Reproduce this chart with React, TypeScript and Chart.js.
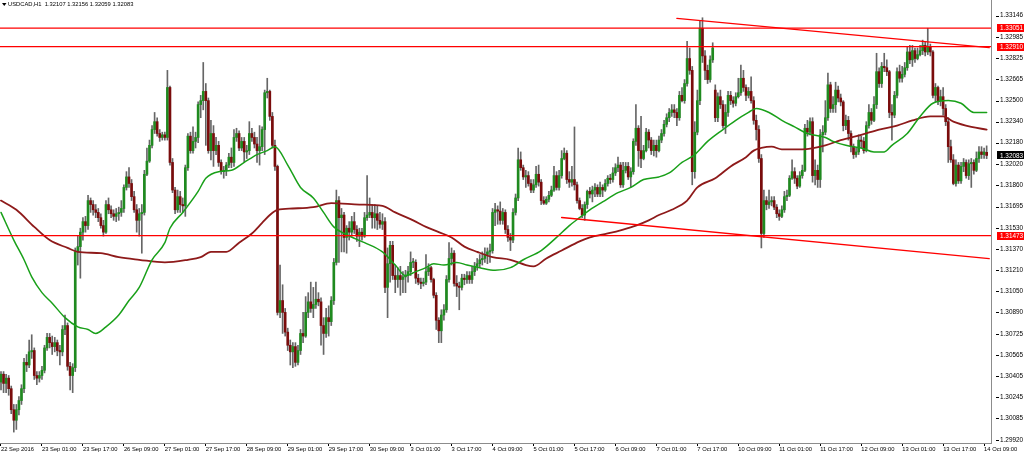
import React, { useEffect, useRef } from "react";
import { Chart, registerables } from "chart.js";

Chart.register(...registerables);

// ---- header ----
const symbolTitle = "USDCAD,H1";
const lastOHLC = [1.32107, 1.32156, 1.32059, 1.32083];

// ---- candles (H1 bars, 22 Sep 2016 09:00 ... 14 Oct 2016 10:00) ----
const opens = [
  1.3036,1.3042,1.3035,1.3039,1.3031,1.3015,1.3007,1.3015,1.3022,1.3031,1.3051,1.3049,1.3059,1.3060,1.3041,1.3039,
  1.3041,1.3045,1.3062,1.3070,1.3066,1.3063,1.3066,1.3060,1.3059,1.3076,1.3079,1.3048,1.3041,1.3047,1.3135,1.3139,
  1.3150,1.3158,1.3155,1.3174,1.3171,1.3167,1.3165,1.3161,1.3155,1.3150,1.3171,1.3167,1.3164,1.3162,1.3164,1.3165,
  1.3168,1.3184,1.3192,1.3187,1.3177,1.3167,1.3159,1.3164,1.3165,1.3194,1.3204,1.3216,1.3228,1.3234,1.3225,1.3222,
  1.3224,1.3222,1.3260,1.3203,1.3182,1.3167,1.3177,1.3171,1.3170,1.3199,1.3223,1.3212,1.3219,1.3222,1.3247,1.3250,
  1.3257,1.3250,1.3212,1.3225,1.3212,1.3216,1.3203,1.3196,1.3197,1.3201,1.3207,1.3203,1.3222,1.3225,1.3214,1.3219,
  1.3211,1.3212,1.3225,1.3222,1.3217,1.3212,1.3215,1.3228,1.3256,1.3257,1.3238,1.3216,1.3200,1.3089,1.3098,1.3089,
  1.3074,1.3064,1.3059,1.3063,1.3051,1.3060,1.3073,1.3071,1.3089,1.3097,1.3092,1.3095,1.3099,1.3097,1.3079,1.3073,
  1.3085,1.3082,1.3098,1.3127,1.3174,1.3161,1.3163,1.3146,1.3153,1.3150,1.3158,1.3152,1.3147,1.3150,1.3147,1.3161,
  1.3163,1.3165,1.3161,1.3164,1.3159,1.3156,1.3158,1.3108,1.3126,1.3140,1.3117,1.3114,1.3117,1.3114,1.3116,1.3117,
  1.3120,1.3127,1.3127,1.3115,1.3112,1.3111,1.3112,1.3120,1.3123,1.3114,1.3102,1.3083,1.3075,1.3087,1.3091,1.3114,
  1.3130,1.3134,1.3111,1.3109,1.3108,1.3115,1.3114,1.3117,1.3114,1.3120,1.3124,1.3126,1.3129,1.3130,1.3133,1.3135,
  1.3136,1.3165,1.3167,1.3166,1.3159,1.3165,1.3152,1.3146,1.3144,1.3165,1.3176,1.3205,1.3199,1.3192,1.3193,1.3187,
  1.3182,1.3186,1.3194,1.3188,1.3174,1.3172,1.3175,1.3178,1.3182,1.3193,1.3184,1.3193,1.3206,1.3210,1.3190,1.3188,
  1.3190,1.3186,1.3174,1.3168,1.3163,1.3171,1.3181,1.3179,1.3182,1.3184,1.3179,1.3184,1.3182,1.3187,1.3191,1.3190,
  1.3195,1.3199,1.3201,1.3186,1.3197,1.3200,1.3192,1.3196,1.3219,1.3229,1.3212,1.3206,1.3212,1.3226,1.3220,1.3212,
  1.3216,1.3212,1.3220,1.3225,1.3232,1.3237,1.3241,1.3243,1.3241,1.3237,1.3254,1.3250,1.3263,1.3282,1.3273,1.3196,
  1.3226,1.3250,1.3305,1.3284,1.3273,1.3266,1.3281,1.3258,1.3237,1.3253,1.3247,1.3231,1.3241,1.3254,1.3250,1.3248,
  1.3253,1.3256,1.3267,1.3260,1.3254,1.3257,1.3250,1.3235,1.3228,1.3206,1.3149,1.3174,1.3171,1.3173,1.3174,1.3169,
  1.3164,1.3162,1.3167,1.3177,1.3178,1.3191,1.3196,1.3191,1.3185,1.3193,1.3197,1.3229,1.3226,1.3234,1.3193,1.3197,
  1.3190,1.3224,1.3226,1.3237,1.3262,1.3244,1.3247,1.3258,1.3252,1.3249,1.3231,1.3235,1.3225,1.3215,1.3209,1.3211,
  1.3220,1.3219,1.3212,1.3231,1.3241,1.3235,1.3247,1.3272,1.3263,1.3276,1.3275,1.3272,1.3241,1.3239,1.3254,1.3272,
  1.3267,1.3270,1.3275,1.3287,1.3281,1.3288,1.3282,1.3285,1.3288,1.3292,1.3287,1.3291,1.3287,1.3254,1.3260,1.3250,
  1.3253,1.3244,1.3234,1.3215,1.3205,1.3187,1.3201,1.3189,1.3200,1.3203,1.3193,1.3202,1.3203,1.3197,1.3206,1.3211,
  1.3209,1.32107,
];
const highs = [
  1.3044,1.3044,1.3042,1.3041,1.3033,1.3019,1.3019,1.3025,1.3034,1.3054,1.3057,1.3068,1.3072,1.3062,1.3044,1.3044,
  1.3048,1.3064,1.3073,1.3073,1.3071,1.3070,1.3068,1.3064,1.3079,1.3087,1.3081,1.3051,1.3050,1.3138,1.3147,1.3153,
  1.3161,1.3162,1.3178,1.3176,1.3174,1.3171,1.3168,1.3164,1.3159,1.3174,1.3176,1.3170,1.3167,1.3168,1.3169,1.3174,
  1.3186,1.3196,1.3199,1.3190,1.3181,1.3171,1.3168,1.3171,1.3197,1.3214,1.3220,1.3231,1.3241,1.3237,1.3228,1.3226,
  1.3226,1.3273,1.3261,1.3206,1.3184,1.3182,1.3181,1.3176,1.3201,1.3225,1.3226,1.3230,1.3226,1.3249,1.3254,1.3279,
  1.3263,1.3252,1.3235,1.3231,1.3222,1.3219,1.3205,1.3200,1.3203,1.3210,1.3214,1.3228,1.3229,1.3227,1.3222,1.3222,
  1.3216,1.3234,1.3229,1.3226,1.3222,1.3231,1.3230,1.3258,1.3267,1.3258,1.3241,1.3220,1.3201,1.3125,1.3110,1.3092,
  1.3077,1.3068,1.3066,1.3066,1.3064,1.3076,1.3089,1.3101,1.3104,1.3112,1.3108,1.3112,1.3104,1.3100,1.3085,1.3092,
  1.3094,1.3101,1.3130,1.3182,1.3177,1.3168,1.3165,1.3155,1.3158,1.3162,1.3165,1.3155,1.3153,1.3153,1.3165,1.3193,
  1.3176,1.3171,1.3171,1.3170,1.3165,1.3164,1.3161,1.3138,1.3143,1.3143,1.3125,1.3123,1.3124,1.3120,1.3121,1.3124,
  1.3135,1.3130,1.3129,1.3118,1.3115,1.3115,1.3133,1.3126,1.3124,1.3115,1.3104,1.3085,1.3091,1.3095,1.3117,1.3142,
  1.3138,1.3136,1.3117,1.3112,1.3118,1.3118,1.3120,1.3120,1.3124,1.3127,1.3130,1.3133,1.3135,1.3138,1.3138,1.3141,
  1.3168,1.3172,1.3170,1.3173,1.3168,1.3167,1.3155,1.3149,1.3168,1.3179,1.3214,1.3211,1.3201,1.3197,1.3196,1.3190,
  1.3190,1.3200,1.3201,1.3190,1.3177,1.3177,1.3181,1.3185,1.3200,1.3196,1.3197,1.3212,1.3214,1.3212,1.3196,1.3200,
  1.3230,1.3188,1.3176,1.3171,1.3173,1.3182,1.3184,1.3185,1.3187,1.3186,1.3188,1.3186,1.3190,1.3193,1.3194,1.3199,
  1.3202,1.3207,1.3203,1.3203,1.3203,1.3203,1.3199,1.3221,1.3247,1.3231,1.3238,1.3216,1.3229,1.3228,1.3222,1.3220,
  1.3220,1.3223,1.3228,1.3235,1.3240,1.3244,1.3247,1.3247,1.3244,1.3257,1.3260,1.3266,1.3295,1.3290,1.3276,1.3234,
  1.3258,1.3311,1.3313,1.3288,1.3277,1.3284,1.3294,1.3262,1.3256,1.3258,1.3250,1.3247,1.3257,1.3257,1.3253,1.3256,
  1.3267,1.3277,1.3273,1.3262,1.3260,1.3268,1.3253,1.3239,1.3231,1.3209,1.3182,1.3177,1.3182,1.3177,1.3177,1.3171,
  1.3167,1.3170,1.3181,1.3182,1.3193,1.3205,1.3199,1.3193,1.3196,1.3201,1.3232,1.3235,1.3237,1.3237,1.3205,1.3201,
  1.3228,1.3231,1.3250,1.3271,1.3264,1.3253,1.3264,1.3261,1.3255,1.3250,1.3239,1.3238,1.3227,1.3217,1.3214,1.3224,
  1.3223,1.3222,1.3234,1.3247,1.3244,1.3253,1.3286,1.3275,1.3279,1.3286,1.3281,1.3273,1.3247,1.3257,1.3275,1.3277,
  1.3276,1.3279,1.3291,1.3292,1.3292,1.3290,1.3290,1.3292,1.3296,1.3295,1.3305,1.3293,1.3288,1.3263,1.3261,1.3258,
  1.3260,1.3247,1.3237,1.3220,1.3209,1.3205,1.3203,1.3203,1.3206,1.3205,1.3205,1.3206,1.3205,1.3211,1.3215,1.3215,
  1.3214,1.32156,
];
const lows = [
  1.3030,1.3028,1.3028,1.3026,1.3012,1.2998,1.3000,1.3011,1.3019,1.3028,1.3044,1.3047,1.3054,1.3038,1.3034,1.3036,
  1.3038,1.3043,1.3060,1.3062,1.3057,1.3059,1.3056,1.3049,1.3056,1.3072,1.3045,1.3030,1.3028,1.3044,1.3125,1.3115,
  1.3144,1.3150,1.3152,1.3165,1.3163,1.3161,1.3158,1.3153,1.3147,1.3149,1.3164,1.3161,1.3159,1.3158,1.3159,1.3162,
  1.3165,1.3182,1.3184,1.3174,1.3165,1.3150,1.3147,1.3134,1.3163,1.3193,1.3203,1.3214,1.3225,1.3223,1.3219,1.3220,
  1.3220,1.3220,1.3201,1.3180,1.3164,1.3165,1.3165,1.3165,1.3162,1.3197,1.3210,1.3210,1.3214,1.3218,1.3237,1.3243,
  1.3216,1.3210,1.3205,1.3200,1.3209,1.3200,1.3194,1.3191,1.3193,1.3199,1.3199,1.3200,1.3219,1.3212,1.3212,1.3203,
  1.3206,1.3209,1.3219,1.3214,1.3203,1.3201,1.3212,1.3209,1.3252,1.3235,1.3214,1.3197,1.3087,1.3085,1.3073,1.3071,
  1.3060,1.3049,1.3047,1.3048,1.3049,1.3057,1.3066,1.3070,1.3085,1.3089,1.3085,1.3092,1.3094,1.3064,1.3057,1.3070,
  1.3071,1.3079,1.3095,1.3125,1.3127,1.3135,1.3135,1.3134,1.3144,1.3147,1.3149,1.3143,1.3139,1.3144,1.3146,1.3159,
  1.3161,1.3153,1.3153,1.3152,1.3153,1.3152,1.3104,1.3085,1.3112,1.3114,1.3104,1.3108,1.3102,1.3104,1.3104,1.3112,
  1.3117,1.3123,1.3111,1.3110,1.3107,1.3109,1.3110,1.3117,1.3112,1.3100,1.3076,1.3066,1.3066,1.3083,1.3089,1.3112,
  1.3125,1.3109,1.3101,1.3091,1.3106,1.3110,1.3111,1.3111,1.3111,1.3117,1.3121,1.3123,1.3125,1.3127,1.3126,1.3127,
  1.3134,1.3155,1.3156,1.3156,1.3156,1.3149,1.3143,1.3136,1.3142,1.3163,1.3174,1.3197,1.3190,1.3184,1.3185,1.3180,
  1.3180,1.3184,1.3185,1.3171,1.3171,1.3171,1.3173,1.3177,1.3181,1.3182,1.3182,1.3191,1.3205,1.3187,1.3184,1.3185,
  1.3182,1.3172,1.3167,1.3161,1.3159,1.3168,1.3176,1.3173,1.3177,1.3177,1.3177,1.3177,1.3181,1.3185,1.3187,1.3188,
  1.3193,1.3196,1.3184,1.3184,1.3195,1.3190,1.3184,1.3194,1.3216,1.3200,1.3199,1.3205,1.3211,1.3214,1.3209,1.3208,
  1.3207,1.3211,1.3218,1.3223,1.3230,1.3234,1.3238,1.3237,1.3231,1.3235,1.3249,1.3248,1.3261,1.3270,1.3186,1.3191,
  1.3224,1.3247,1.3279,1.3266,1.3263,1.3264,1.3279,1.3234,1.3234,1.3244,1.3229,1.3225,1.3238,1.3247,1.3245,1.3246,
  1.3252,1.3254,1.3257,1.3250,1.3252,1.3248,1.3232,1.3220,1.3203,1.3138,1.3146,1.3167,1.3168,1.3170,1.3167,1.3161,
  1.3159,1.3161,1.3165,1.3174,1.3177,1.3190,1.3187,1.3183,1.3184,1.3191,1.3196,1.3223,1.3224,1.3188,1.3186,1.3184,
  1.3184,1.3211,1.3224,1.3235,1.3241,1.3241,1.3241,1.3249,1.3246,1.3227,1.3228,1.3220,1.3211,1.3206,1.3207,1.3209,
  1.3214,1.3210,1.3211,1.3229,1.3232,1.3234,1.3244,1.3260,1.3260,1.3272,1.3269,1.3237,1.3220,1.3237,1.3252,1.3264,
  1.3264,1.3268,1.3273,1.3278,1.3276,1.3279,1.3281,1.3284,1.3285,1.3284,1.3285,1.3284,1.3252,1.3249,1.3247,1.3246,
  1.3239,1.3231,1.3203,1.3203,1.3186,1.3185,1.3187,1.3187,1.3196,1.3191,1.3190,1.3184,1.3194,1.3196,1.3203,1.3206,
  1.3206,1.32059,
];
const closes = [
  1.3042,1.3035,1.3039,1.3031,1.3015,1.3007,1.3015,1.3022,1.3031,1.3051,1.3049,1.3059,1.3060,1.3041,1.3039,1.3041,
  1.3045,1.3062,1.3070,1.3066,1.3063,1.3066,1.3060,1.3059,1.3076,1.3079,1.3048,1.3041,1.3047,1.3135,1.3139,1.3150,
  1.3158,1.3155,1.3174,1.3171,1.3167,1.3165,1.3161,1.3155,1.3150,1.3171,1.3167,1.3164,1.3162,1.3164,1.3165,1.3168,
  1.3184,1.3192,1.3187,1.3177,1.3167,1.3159,1.3164,1.3165,1.3194,1.3204,1.3216,1.3228,1.3234,1.3225,1.3222,1.3224,
  1.3222,1.3260,1.3203,1.3182,1.3167,1.3177,1.3171,1.3170,1.3199,1.3223,1.3212,1.3219,1.3222,1.3247,1.3250,1.3257,
  1.3250,1.3212,1.3225,1.3212,1.3216,1.3203,1.3196,1.3197,1.3201,1.3207,1.3203,1.3222,1.3225,1.3214,1.3219,1.3211,
  1.3212,1.3225,1.3222,1.3217,1.3212,1.3215,1.3228,1.3256,1.3257,1.3238,1.3216,1.3200,1.3089,1.3098,1.3089,1.3074,
  1.3064,1.3059,1.3063,1.3051,1.3060,1.3073,1.3071,1.3089,1.3097,1.3092,1.3095,1.3099,1.3097,1.3079,1.3073,1.3085,
  1.3082,1.3098,1.3127,1.3174,1.3161,1.3163,1.3146,1.3153,1.3150,1.3158,1.3152,1.3147,1.3150,1.3147,1.3161,1.3163,
  1.3165,1.3161,1.3164,1.3159,1.3156,1.3158,1.3108,1.3126,1.3140,1.3117,1.3114,1.3117,1.3114,1.3116,1.3117,1.3120,
  1.3127,1.3127,1.3115,1.3112,1.3111,1.3112,1.3120,1.3123,1.3114,1.3102,1.3083,1.3075,1.3087,1.3091,1.3114,1.3130,
  1.3134,1.3111,1.3109,1.3108,1.3115,1.3114,1.3117,1.3114,1.3120,1.3124,1.3126,1.3129,1.3130,1.3133,1.3135,1.3136,
  1.3165,1.3167,1.3166,1.3159,1.3165,1.3152,1.3146,1.3144,1.3165,1.3176,1.3205,1.3199,1.3192,1.3193,1.3187,1.3182,
  1.3186,1.3194,1.3188,1.3174,1.3172,1.3175,1.3178,1.3182,1.3193,1.3184,1.3193,1.3206,1.3210,1.3190,1.3188,1.3190,
  1.3186,1.3174,1.3168,1.3163,1.3171,1.3181,1.3179,1.3182,1.3184,1.3179,1.3184,1.3182,1.3187,1.3191,1.3190,1.3195,
  1.3199,1.3201,1.3186,1.3197,1.3200,1.3192,1.3196,1.3219,1.3229,1.3212,1.3206,1.3212,1.3226,1.3220,1.3212,1.3216,
  1.3212,1.3220,1.3225,1.3232,1.3237,1.3241,1.3243,1.3241,1.3237,1.3254,1.3250,1.3263,1.3282,1.3273,1.3196,1.3226,
  1.3250,1.3305,1.3284,1.3273,1.3266,1.3281,1.3290,1.3237,1.3253,1.3247,1.3231,1.3241,1.3254,1.3250,1.3248,1.3253,
  1.3256,1.3267,1.3260,1.3254,1.3257,1.3250,1.3235,1.3228,1.3206,1.3149,1.3174,1.3171,1.3173,1.3174,1.3169,1.3164,
  1.3162,1.3167,1.3177,1.3178,1.3191,1.3196,1.3191,1.3185,1.3193,1.3197,1.3229,1.3226,1.3234,1.3193,1.3197,1.3190,
  1.3224,1.3226,1.3237,1.3262,1.3244,1.3247,1.3258,1.3252,1.3249,1.3231,1.3235,1.3225,1.3215,1.3209,1.3211,1.3220,
  1.3219,1.3212,1.3231,1.3241,1.3235,1.3247,1.3272,1.3263,1.3276,1.3275,1.3272,1.3241,1.3239,1.3254,1.3272,1.3267,
  1.3270,1.3275,1.3287,1.3281,1.3288,1.3282,1.3285,1.3288,1.3292,1.3287,1.3291,1.3287,1.3254,1.3260,1.3250,1.3253,
  1.3244,1.3234,1.3215,1.3205,1.3187,1.3201,1.3189,1.3200,1.3203,1.3193,1.3202,1.3203,1.3197,1.3206,1.3211,1.3209,
  1.3211,1.32083,
];

// ---- moving averages (read at sample bars) ----
const greenMaBars = [0,5,9,12,16,20,25,30,34,37,41,46,50,54,59,64,66,71,77,80,85,90,95,100,104,107,112,117,122,126,130,135,142,149,154,158,162,166,169,173,178,182,187,193,199,204,211,217,222,226,230,235,241,246,251,257,261,266,271,276,282,287,292,295,300,305,310,315,322,325,330,336,341,345,348,354,359,364,370,375,380,385];
const greenMaValues = [1.3165,1.3144,1.3129,1.3116,1.3104,1.3096,1.3085,1.3078,1.3076,1.3073,1.3078,1.3087,1.3098,1.3108,1.3129,1.3142,1.3153,1.3165,1.3181,1.3191,1.3196,1.3197,1.3203,1.3209,1.3212,1.3215,1.3201,1.3184,1.3176,1.3165,1.3154,1.3148,1.3142,1.3135,1.3125,1.3117,1.3120,1.3123,1.3126,1.3125,1.3127,1.3125,1.3123,1.3121,1.3123,1.3129,1.3136,1.3146,1.3155,1.3161,1.3167,1.3173,1.3180,1.3184,1.3190,1.3192,1.3195,1.3203,1.3209,1.3219,1.3228,1.3235,1.3241,1.3244,1.3241,1.3235,1.3230,1.3225,1.3222,1.3219,1.3216,1.3214,1.3211,1.3211,1.3216,1.3225,1.3238,1.3248,1.3250,1.3248,1.3241,1.3241];
const redMaBars = [0,6,13,19,26,30,39,46,54,64,73,78,82,88,93,98,102,105,108,114,122,129,140,149,154,161,166,171,176,181,186,192,199,205,208,213,219,226,230,237,243,248,253,257,262,268,272,279,285,291,294,297,301,305,313,322,328,336,343,350,356,363,368,372,379,385];
const redMaValues = [1.3174,1.3167,1.3154,1.3144,1.3138,1.3135,1.3134,1.3131,1.3129,1.3127,1.3129,1.3131,1.3135,1.3135,1.3142,1.3149,1.3157,1.3163,1.3167,1.3168,1.3169,1.3172,1.3171,1.3170,1.3165,1.3159,1.3154,1.3150,1.3146,1.3139,1.3135,1.3131,1.3129,1.3125,1.3124,1.3130,1.3136,1.3143,1.3146,1.3149,1.3152,1.3155,1.3159,1.3163,1.3167,1.3174,1.3184,1.3191,1.3200,1.3207,1.3212,1.3214,1.3215,1.3213,1.3213,1.3216,1.3220,1.3224,1.3228,1.3231,1.3235,1.3238,1.3238,1.3234,1.3230,1.3228];

// ---- drawn objects ----
const horizontalLevels = [1.33051, 1.3291, 1.31473];
const upperTrendBars = [264, 386];
const upperTrendPrices = [1.33125, 1.32903];
const lowerTrendBars = [219, 386];
const lowerTrendPrices = [1.31611, 1.31299];

// ---- axes ----
const yTickValues = [1.33146,1.32985,1.32825,1.32665,1.325,1.3234,1.3218,1.3202,1.3186,1.31695,1.3153,1.3137,1.3121,1.3105,1.3089,1.30725,1.30565,1.30405,1.30245,1.30085,1.2992];
const xTickBars = [0,16,32,48,64,80,96,112,128,144,160,176,192,208,224,240,256,272,288,304,320,336,352,368,384];
const xTickLabels = ["22 Sep 2016","23 Sep 01:00","23 Sep 17:00","26 Sep 09:00","27 Sep 01:00","27 Sep 17:00","28 Sep 09:00","29 Sep 01:00","29 Sep 17:00","30 Sep 09:00","3 Oct 01:00","3 Oct 17:00","4 Oct 09:00","5 Oct 01:00","5 Oct 17:00","6 Oct 09:00","7 Oct 01:00","7 Oct 17:00","10 Oct 09:00","11 Oct 01:00","11 Oct 17:00","12 Oct 09:00","13 Oct 01:00","13 Oct 17:00","14 Oct 09:00"];

const X_MIN = -0.39;
const X_MAX = 386.7;
const Y_MIN = 1.29897;
const Y_MAX = 1.33265;

const FONT = '"Liberation Sans", Arial, sans-serif';
const BULL = "#1f8a1f";
const BEAR = "#7a0c0c";
const WICK = "#666666";
const LEVEL_RED = "#ff0000";

export default function App() {
  const ref = useRef<HTMLCanvasElement | null>(null);

  useEffect(() => {
    document.body.style.margin = "0";
    const canvas = ref.current;
    if (!canvas) return;

    const bodyData = opens.map((o, i) => ({ x: i, y: [o, closes[i]] }));
    const wickData = lows.map((l, i) => ({
      x: i,
      y: [Math.min(l, opens[i], closes[i]), Math.max(highs[i], opens[i], closes[i])],
    }));
    const bodyColors = opens.map((o, i) => (closes[i] >= o ? BULL : BEAR));

    const lineBase = { type: "line" as const, pointRadius: 0, pointHoverRadius: 0, fill: false, borderCapStyle: "round" as const };

    const overlay = {
      id: "overlay",
      afterDraw(chart: any) {
        const { ctx, chartArea } = chart;
        const y = chart.scales.y;
        ctx.save();
        // y tick dashes
        ctx.strokeStyle = "#000";
        ctx.lineWidth = 1;
        yTickValues.forEach((v) => {
          const py = Math.round(y.getPixelForValue(v)) + 0.5;
          ctx.beginPath();
          ctx.moveTo(chartArea.right + 5, py);
          ctx.lineTo(chartArea.right + 8, py);
          ctx.stroke();
        });
        // price boxes
        const boxes = [
          { v: horizontalLevels[0], c: LEVEL_RED },
          { v: horizontalLevels[1], c: LEVEL_RED },
          { v: horizontalLevels[2], c: LEVEL_RED },
          { v: lastOHLC[3], c: "#000000" },
        ];
        ctx.font = `6.4px ${FONT}`;
        ctx.textBaseline = "middle";
        ctx.textAlign = "left";
        boxes.forEach((b) => {
          const py = y.getPixelForValue(b.v);
          ctx.fillStyle = b.c;
          ctx.fillRect(chartArea.right + 6, Math.round(py) - 4, 33, 8);
          ctx.fillStyle = "#ffffff";
          ctx.fillText(b.v.toFixed(5), chartArea.right + 9, py + 0.5);
        });
        // title
        ctx.fillStyle = "#000";
        ctx.beginPath();
        ctx.moveTo(2, 3);
        ctx.lineTo(6.5, 3);
        ctx.lineTo(4.25, 6);
        ctx.closePath();
        ctx.fill();
        ctx.font = `5.8px ${FONT}`;
        ctx.textBaseline = "middle";
        ctx.fillText(
          `${symbolTitle}  ${lastOHLC.map((v) => v.toFixed(5)).join(" ")}`,
          8,
          4.5
        );
        ctx.restore();
      },
    };

    const chart = new Chart(canvas, {
      type: "bar",
      data: {
        datasets: [
          ...horizontalLevels.map((v) => ({
            ...lineBase,
            data: [{ x: X_MIN, y: v }, { x: X_MAX, y: v }],
            borderColor: LEVEL_RED,
            borderWidth: 1.2,
            order: 0,
          })),
          {
            ...lineBase,
            data: upperTrendBars.map((b, i) => ({ x: b, y: upperTrendPrices[i] })),
            borderColor: LEVEL_RED,
            borderWidth: 1.4,
            order: 0,
          },
          {
            ...lineBase,
            data: lowerTrendBars.map((b, i) => ({ x: b, y: lowerTrendPrices[i] })),
            borderColor: LEVEL_RED,
            borderWidth: 1.4,
            order: 0,
          },
          {
            ...lineBase,
            data: greenMaBars.map((b, i) => ({ x: b, y: greenMaValues[i] })),
            borderColor: "#19a019",
            borderWidth: 1.5,
            cubicInterpolationMode: "monotone",
            order: 0,
          },
          {
            ...lineBase,
            data: redMaBars.map((b, i) => ({ x: b, y: redMaValues[i] })),
            borderColor: "#8e1a1a",
            borderWidth: 1.8,
            cubicInterpolationMode: "monotone",
            order: 0,
          },
          {
            type: "bar",
            data: bodyData,
            backgroundColor: bodyColors,
            borderWidth: 0,
            barThickness: 2,
            grouped: false,
            minBarLength: 1,
            order: 1,
          },
          {
            type: "bar",
            data: wickData,
            backgroundColor: WICK,
            borderWidth: 0,
            barThickness: 1,
            grouped: false,
            order: 2,
          },
        ] as any,
      },
      options: {
        animation: false,
        responsive: false,
        maintainAspectRatio: false,
        layout: { padding: 0, autoPadding: false },
        plugins: { legend: { display: false }, tooltip: { enabled: false } },
        scales: {
          x: {
            type: "linear",
            min: X_MIN,
            max: X_MAX,
            offset: false,
            position: "bottom",
            grid: { display: true, drawOnChartArea: false, drawTicks: true, tickLength: 3, color: "#000", offset: false },
            border: { display: true, color: "#8c8c8c", width: 1 },
            ticks: {
              autoSkip: false,
              maxRotation: 0,
              minRotation: 0,
              align: "start",
              padding: 0,
              color: "#000",
              font: { family: FONT, size: 5.8 },
              callback: (value: any) => {
                const k = xTickBars.indexOf(Number(value));
                return k >= 0 ? xTickLabels[k] : "";
              },
            },
            afterBuildTicks: (s: any) => {
              s.ticks = xTickBars.map((v) => ({ value: v }));
            },
            afterFit: (s: any) => {
              s.height = 11;
              s.paddingLeft = 0;
              s.paddingRight = 0;
              s.paddingTop = 0;
              s.paddingBottom = 0;
            },
          },
          y: {
            type: "linear",
            position: "right",
            min: Y_MIN,
            max: Y_MAX,
            grid: { display: false, drawTicks: false },
            border: { display: true, color: "#8c8c8c", width: 1 },
            ticks: {
              autoSkip: false,
              padding: 9,
              color: "#000",
              font: { family: FONT, size: 6.4 },
              callback: (value: any) => Number(value).toFixed(5),
            },
            afterBuildTicks: (s: any) => {
              s.ticks = yTickValues.map((v) => ({ value: v }));
            },
            afterFit: (s: any) => {
              s.width = 33;
              s.paddingLeft = 0;
              s.paddingRight = 0;
              s.paddingTop = 0;
              s.paddingBottom = 0;
            },
          },
        },
      } as any,
      plugins: [overlay],
    });

    return () => chart.destroy();
  }, []);

  return (
    <canvas
      ref={ref}
      width={1024}
      height={454}
      style={{ display: "block", width: 1024, height: 454 }}
    />
  );
}
